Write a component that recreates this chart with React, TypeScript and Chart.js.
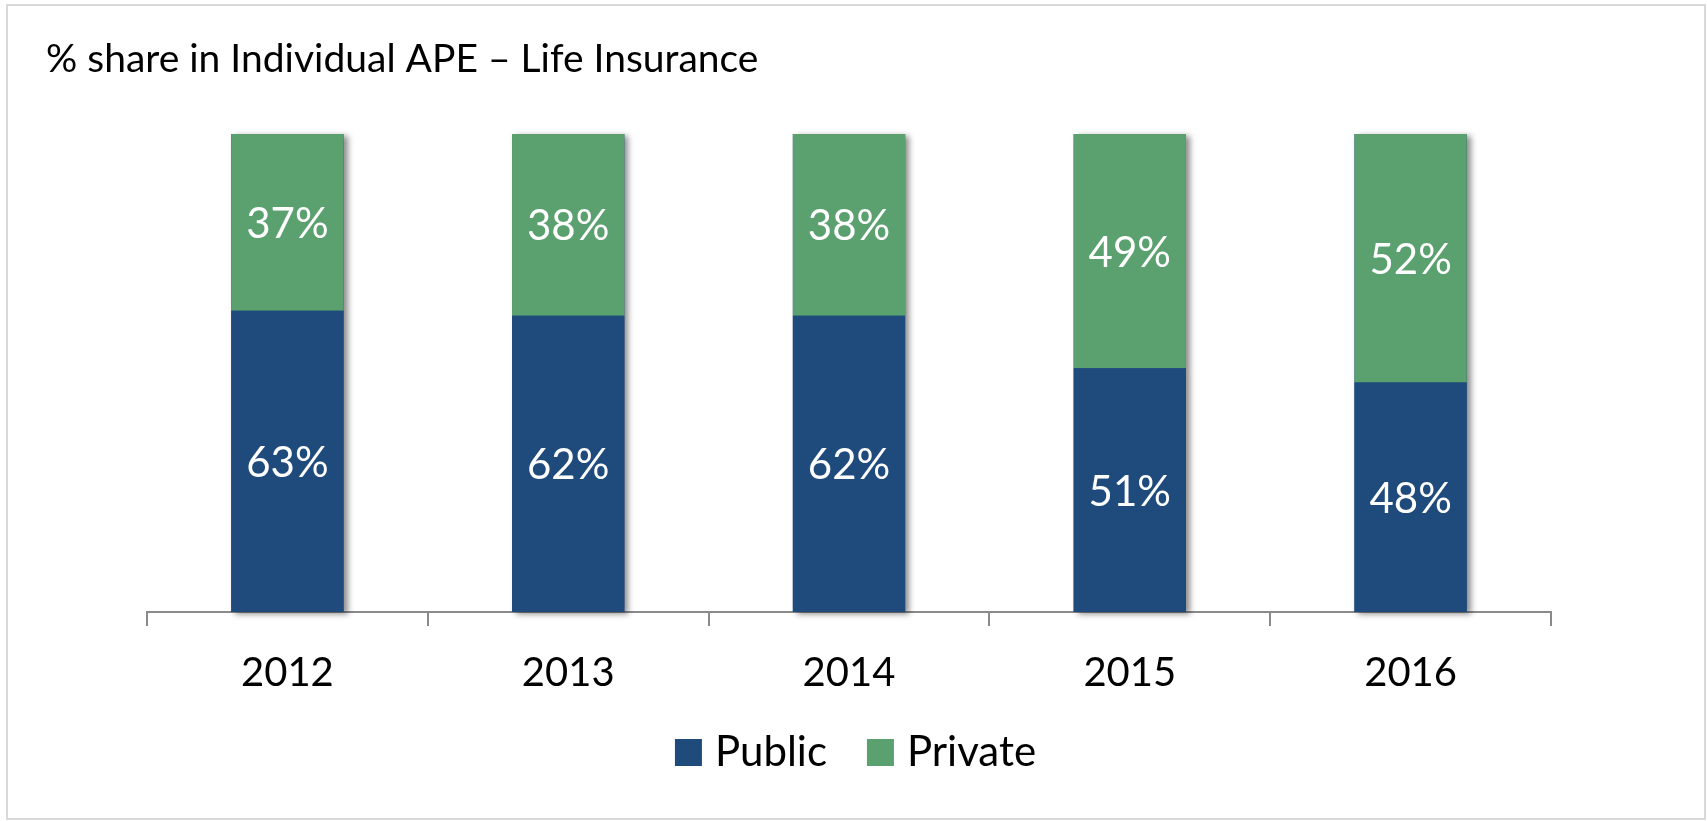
import React, { useEffect, useRef } from 'react';
import { Chart, registerables } from 'chart.js';

Chart.register(...registerables);

const categories: string[] = ['2012', '2013', '2014', '2015', '2016'];
const publicShare: number[] = [63, 62, 62, 51, 48];
const privateShare: number[] = [37, 38, 38, 49, 52];
const seriesNames: string[] = ['Public', 'Private'];
const seriesColors: string[] = ['#1F4A7C', '#5BA06F'];
const chartTitle = '% share in Individual APE – Life Insurance';

const FONT = 'Lato';

const framePlugin = {
  id: 'frame',
  beforeDraw(chart: any) {
    const ctx = chart.ctx;
    ctx.save();
    ctx.fillStyle = '#ffffff';
    ctx.fillRect(0, 0, chart.width, chart.height);
    ctx.strokeStyle = '#d9d9d9';
    ctx.lineWidth = 2;
    ctx.strokeRect(7, 5, chart.width - 9, chart.height - 7);
    ctx.restore();
  },
};

const shadowPlugin = {
  id: 'barShadow',
  beforeDatasetsDraw(chart: any) {
    const ctx = chart.ctx;
    const m0 = chart.getDatasetMeta(0);
    const m1 = chart.getDatasetMeta(1);
    ctx.save();
    ctx.shadowColor = 'rgba(0,0,0,0.45)';
    ctx.shadowBlur = 6;
    ctx.shadowOffsetX = 4;
    ctx.shadowOffsetY = 2;
    m0.data.forEach((el: any, i: number) => {
      const top = m1.data[i] ? Math.min(m1.data[i].y, el.y) : el.y;
      const bottom = el.base;
      ctx.fillStyle = seriesColors[0];
      ctx.fillRect(el.x - el.width / 2, top, el.width, bottom - top);
    });
    ctx.restore();
  },
};

const labelPlugin = {
  id: 'valueLabels',
  afterDatasetsDraw(chart: any) {
    const ctx = chart.ctx;
    ctx.save();
    ctx.fillStyle = '#ffffff';
    ctx.font = `42px ${FONT}`;
    ctx.textAlign = 'center';
    ctx.textBaseline = 'alphabetic';
    chart.data.datasets.forEach((ds: any, di: number) => {
      const meta = chart.getDatasetMeta(di);
      meta.data.forEach((el: any, i: number) => {
        const cy = (el.y + el.base) / 2;
        ctx.fillText(`${ds.data[i]}%`, el.x, cy + 15.5);
      });
    });
    ctx.restore();
  },
};

const titleLegendPlugin = {
  id: 'titleLegend',
  afterDraw(chart: any) {
    const ctx = chart.ctx;
    ctx.save();
    ctx.fillStyle = '#000000';
    ctx.textAlign = 'left';
    ctx.textBaseline = 'alphabetic';
    ctx.font = `39px ${FONT}`;
    ctx.fillText(chartTitle, 46, 72);

    ctx.font = `42px ${FONT}`;
    const box = 27;
    const gap = 13;
    const between = 40;
    const names = chart.data.datasets.map((d: any) => d.label);
    const widths = names.map((n: string) => ctx.measureText(n).width);
    const total = widths.reduce((a: number, w: number) => a + box + gap + w, 0) + between * (names.length - 1);
    let x = chart.width / 2 + 2 - total / 2;
    const baseline = 766;
    names.forEach((n: string, i: number) => {
      ctx.fillStyle = chart.data.datasets[i].backgroundColor;
      ctx.fillRect(x, baseline - box, box, box);
      x += box + gap;
      ctx.fillStyle = '#000000';
      ctx.fillText(n, x, baseline);
      x += widths[i] + between;
    });
    ctx.restore();
  },
};

export default function App() {
  const canvasRef = useRef<HTMLCanvasElement | null>(null);

  useEffect(() => {
    if (!canvasRef.current) return;
    const chart = new Chart(canvasRef.current, {
      type: 'bar',
      data: {
        labels: categories,
        datasets: [
          {
            label: seriesNames[0],
            data: publicShare,
            backgroundColor: seriesColors[0],
            borderWidth: 0,
            categoryPercentage: 1,
            barPercentage: 0.4,
          },
          {
            label: seriesNames[1],
            data: privateShare,
            backgroundColor: seriesColors[1],
            borderWidth: 0,
            categoryPercentage: 1,
            barPercentage: 0.4,
          },
        ],
      },
      options: {
        responsive: false,
        devicePixelRatio: 1,
        animation: false,
        layout: { padding: { left: 147, right: 156, top: 134, bottom: 0 } },
        plugins: {
          legend: { display: false },
          title: { display: false },
          tooltip: { enabled: false },
        },
        scales: {
          x: {
            stacked: true,
            offset: true,
            afterFit: (scale: any) => {
              scale.height = 209;
            },
            grid: {
              display: true,
              offset: true,
              drawOnChartArea: false,
              drawTicks: true,
              tickLength: 14,
              color: '#8a8a8a',
              lineWidth: 2,
            },
            border: { display: true, color: '#8a8a8a', width: 2 },
            ticks: {
              color: '#000000',
              padding: 23,
              font: { family: FONT, size: 40 },
              maxRotation: 0,
            },
          },
          y: {
            stacked: true,
            display: false,
            min: 0,
            max: 100,
          },
        },
      },
      plugins: [framePlugin, shadowPlugin, labelPlugin, titleLegendPlugin],
    });
    return () => chart.destroy();
  }, []);

  return (
    <div style={{ position: 'absolute', left: 0, top: 0, width: 1707, height: 821 }}>
      <canvas ref={canvasRef} width={1707} height={821} />
    </div>
  );
}
